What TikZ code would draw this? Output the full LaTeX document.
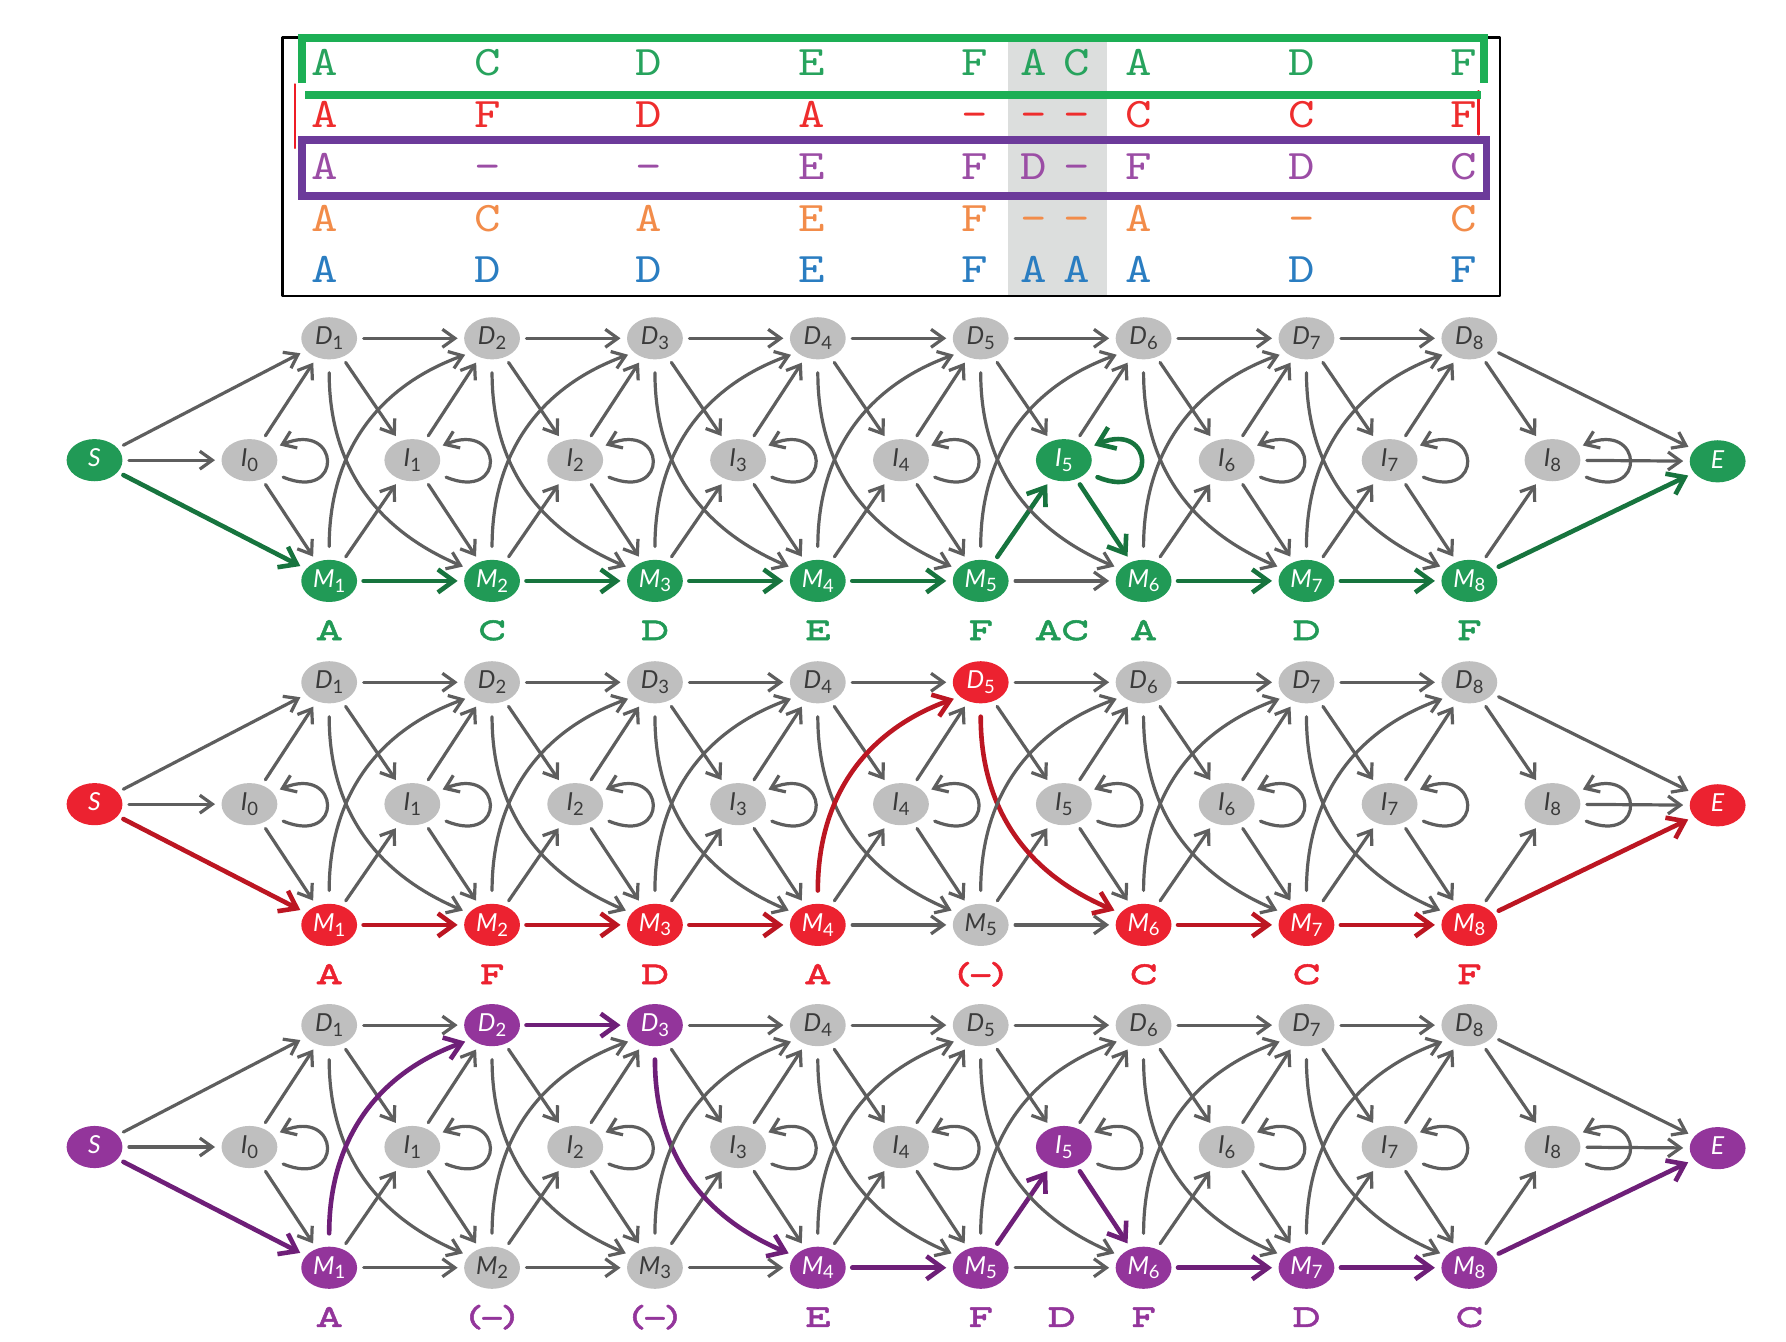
\documentclass[tikz,border=0pt]{standalone}
\usepackage{fontspec}
\usetikzlibrary{arrows.meta,shapes.geometric}

\newfontfamily\statefont{Lato}
\newfontfamily\seqfont[FakeStretch=1.2]{lmmono10-regular.otf}
\newfontfamily\tagfont[FakeStretch=1.15, FakeBold=1.6]{lmmonoproplt10-bold.otf}

\definecolor{stategray}{HTML}{BFBFBF}
\definecolor{statetext}{HTML}{3A3A3A}
\definecolor{linkgray}{HTML}{5E5E5E}
\definecolor{hmmgreen}{HTML}{219A56}
\definecolor{hmmgreendark}{HTML}{17743E}
\definecolor{hmmred}{HTML}{EC2230}
\definecolor{hmmreddark}{HTML}{BC1622}
\definecolor{hmmpurple}{HTML}{93359B}
\definecolor{hmmpurpledark}{HTML}{6E1F78}
\definecolor{seqgreen}{HTML}{27A35D}
\definecolor{seqred}{HTML}{EE2D2D}
\definecolor{seqpurple}{HTML}{9B4DA5}
\definecolor{seqorange}{HTML}{F28C4A}
\definecolor{seqblue}{HTML}{2A7DC1}
\definecolor{boxgreen}{HTML}{1DAF55}
\definecolor{boxred}{HTML}{EE1C25}
\definecolor{boxpurple}{HTML}{6C3A9A}
\definecolor{colshade}{HTML}{DCDEDD}

% state label: italic letter, upright index
\newcommand\lab[2]{{\fontsize{6.2}{7}\selectfont\itshape #1}\raisebox{-1.1pt}{\fontsize{4.6}{5}\selectfont #2}}

\tikzset{
  hmmstate/.style={ellipse, fill=stategray, text=statetext, inner sep=0pt,
    minimum width=0.49cm, minimum height=0.37cm, font=\statefont},
  gon/.style={fill=hmmgreen, text=white},
  ron/.style={fill=hmmred, text=white},
  pon/.style={fill=hmmpurple, text=white},
  link/.style={draw=linkgray, line width=0.8pt,
    -{Straight Barb[length=1.2pt 2.4, width=1.6pt 3.6]},
    shorten <=0.05cm, shorten >=0.05cm},
  curvelink/.style={shorten <=0.11cm},
  gpath/.style={draw=hmmgreendark, line width=1.15pt},
  rpath/.style={draw=hmmreddark, line width=1.15pt},
  ppath/.style={draw=hmmpurpledark, line width=1.15pt},
  seq/.style={anchor=base, inner sep=0pt, font=\seqfont\fontsize{10.5}{13}\selectfont},
  tag/.style={anchor=base, inner sep=0pt, font=\tagfont\fontsize{8}{9}\selectfont},
  frame/.style={line width=1.85pt, line join=miter, line cap=butt},
  % highlighted states and transitions of each path
  hl/.unknown/.code={},
  hl/g1S/.style=gon, hl/g1E/.style=gon, hl/g1I5/.style=gon,
  hl/g1M1/.style=gon, hl/g1M2/.style=gon, hl/g1M3/.style=gon, hl/g1M4/.style=gon,
  hl/g1M5/.style=gon, hl/g1M6/.style=gon, hl/g1M7/.style=gon, hl/g1M8/.style=gon,
  hl/g1SM1/.style=gpath, hl/g1M1M2/.style=gpath, hl/g1M2M3/.style=gpath,
  hl/g1M3M4/.style=gpath, hl/g1M4M5/.style=gpath, hl/g1M5I5/.style=gpath,
  hl/g1I5I5/.style=gpath, hl/g1I5M6/.style=gpath, hl/g1M6M7/.style=gpath,
  hl/g1M7M8/.style=gpath, hl/g1M8E/.style=gpath,
  hl/g2S/.style=ron, hl/g2E/.style=ron, hl/g2D5/.style=ron,
  hl/g2M1/.style=ron, hl/g2M2/.style=ron, hl/g2M3/.style=ron, hl/g2M4/.style=ron,
  hl/g2M6/.style=ron, hl/g2M7/.style=ron, hl/g2M8/.style=ron,
  hl/g2SM1/.style=rpath, hl/g2M1M2/.style=rpath, hl/g2M2M3/.style=rpath,
  hl/g2M3M4/.style=rpath, hl/g2M4D5/.style=rpath, hl/g2D5M6/.style=rpath,
  hl/g2M6M7/.style=rpath, hl/g2M7M8/.style=rpath, hl/g2M8E/.style=rpath,
  hl/g3S/.style=pon, hl/g3E/.style=pon, hl/g3I5/.style=pon,
  hl/g3M1/.style=pon, hl/g3D2/.style=pon, hl/g3D3/.style=pon, hl/g3M4/.style=pon,
  hl/g3M5/.style=pon, hl/g3M6/.style=pon, hl/g3M7/.style=pon, hl/g3M8/.style=pon,
  hl/g3SM1/.style=ppath, hl/g3M1D2/.style=ppath, hl/g3D2D3/.style=ppath,
  hl/g3D3M4/.style=ppath, hl/g3M4M5/.style=ppath, hl/g3M5I5/.style=ppath,
  hl/g3I5M6/.style=ppath, hl/g3M6M7/.style=ppath, hl/g3M7M8/.style=ppath,
  hl/g3M8E/.style=ppath
}

\begin{document}
\begin{tikzpicture}[x=0.01cm, y=-0.01cm, line cap=round, line join=round]
  \useasboundingbox (0,0) rectangle (1568,1178);

  % Alignment table
  \fill[colshade] (885,37) rectangle (972,260);
  \foreach \ch/\cx [count=\j] in {A/285, C/428, D/570, E/713, F/856, A/908, C/945, A/1000, D/1143, F/1285}
    \node[seq, text=seqgreen] (r1c\j) at (\cx, 66) {\ch};
  \foreach \ch/\cx [count=\j] in {A/285, F/428, D/570, A/713, -/856, -/908, -/945, C/1000, C/1143, F/1285}
    \node[seq, text=seqred] (r2c\j) at (\cx, 112) {\ch};
  \foreach \ch/\cx [count=\j] in {A/285, -/428, -/570, E/713, F/856, D/908, -/945, F/1000, D/1143, C/1285}
    \node[seq, text=seqpurple] (r3c\j) at (\cx, 158) {\ch};
  \foreach \ch/\cx [count=\j] in {A/285, C/428, A/570, E/713, F/856, -/908, -/945, A/1000, -/1143, C/1285}
    \node[seq, text=seqorange] (r4c\j) at (\cx, 203) {\ch};
  \foreach \ch/\cx [count=\j] in {A/285, D/428, D/570, E/713, F/856, A/908, A/945, A/1000, D/1143, F/1285}
    \node[seq, text=seqblue] (r5c\j) at (\cx, 248) {\ch};
  \draw[line width=0.6pt] (248,33) rectangle (1317,260);
  \draw[boxred, line width=0.55pt] (259,74) -- (259,130);
  \draw[boxred, line width=0.55pt] (1298,80) -- (1298,118);
  \draw[frame, boxgreen] (265,73) -- (265,33.5) -- (1303,33.5) -- (1303,73);
  \draw[frame, boxgreen] (268,83.5) -- (1300,83.5);
  \draw[frame, boxpurple] (265,123) rectangle (1305,172);

  % The three paths through the model
  \foreach \g/\o in {g1/0, g2/302, g3/603} {
    % states
    \node[hmmstate, hl/\g S] (\g S) at (83, 404+\o) {\lab{S}{}};
    \node[hmmstate, hl/\g E] (\g E) at (1508, 405+\o) {\lab{E}{}};
    \foreach \k in {0,...,8}
      \node[hmmstate, hl/\g I\k] (\g I\k) at ({219+143*\k}, 404+\o) {\lab{I}{\k}};
    \foreach \k in {1,...,8} {
      \node[hmmstate, hl/\g D\k] (\g D\k) at ({146+143*\k}, 297+\o) {\lab{D}{\k}};
      \node[hmmstate, hl/\g M\k] (\g M\k) at ({146+143*\k}, 510+\o) {\lab{M}{\k}};
    }

    % transitions
    \draw[link, hl/\g SD1] (\g S) -- (\g D1);
    \draw[link, hl/\g SI0] (\g S) -- (\g I0);
    \draw[link, hl/\g SM1] (\g S) -- (\g M1);
    \foreach \k in {0,...,7} {
      \pgfmathtruncatemacro\n{\k+1}
      \draw[link, hl/\g I\k D\n] (\g I\k) -- (\g D\n);
      \draw[link, hl/\g I\k M\n] (\g I\k) -- (\g M\n);
    }
    \foreach \k in {1,...,8} {
      \draw[link, hl/\g D\k I\k] (\g D\k) -- (\g I\k);
      \draw[link, hl/\g M\k I\k] (\g M\k) -- (\g I\k);
    }
    \foreach \k in {1,...,7} {
      \pgfmathtruncatemacro\n{\k+1}
      \draw[link, hl/\g D\k D\n] (\g D\k) -- (\g D\n);
      \draw[link, hl/\g M\k M\n] (\g M\k) -- (\g M\n);
      \draw[link, curvelink, hl/\g D\k M\n] (\g D\k) to[out=-90, in=157, looseness=1.05] (\g M\n.153);
      \draw[link, curvelink, hl/\g M\k D\n] (\g M\k) to[out=90, in=-160, looseness=1.05] (\g D\n.-146);
    }
    \foreach \k in {0,...,8}
      \draw[link, hl/\g I\k I\k] ([shift={(25,13)}]\g I\k.center)
        .. controls +(58,24) and +(58,-24) .. ([shift={(22,-11)}]\g I\k.center);
    \draw[link, hl/\g D8E] (\g D8) -- (\g E);
    \draw[link, hl/\g I8E] (\g I8) -- (\g E);
    \draw[link, hl/\g M8E] (\g M8) -- (\g E);
  }

  % emitted symbols
  \foreach \t/\x [count=\j] in {A/289, C/432, D/575, E/718, F/861, AC/932, A/1004, D/1147, F/1290}
    \node[tag, text=hmmgreen] (tag1-\j) at (\x, 562) {\t};
  \foreach \t/\x [count=\j] in {A/289, F/432, D/575, A/718, {(–)}/861, C/1004, C/1147, F/1290}
    \node[tag, text=hmmred] (tag2-\j) at (\x, 864) {\t};
  \foreach \t/\x [count=\j] in {A/289, {(–)}/432, {(–)}/575, E/718, F/861, D/932, F/1004, D/1147, C/1290}
    \node[tag, text=hmmpurple] (tag3-\j) at (\x, 1165) {\t};
\end{tikzpicture}
\end{document}
